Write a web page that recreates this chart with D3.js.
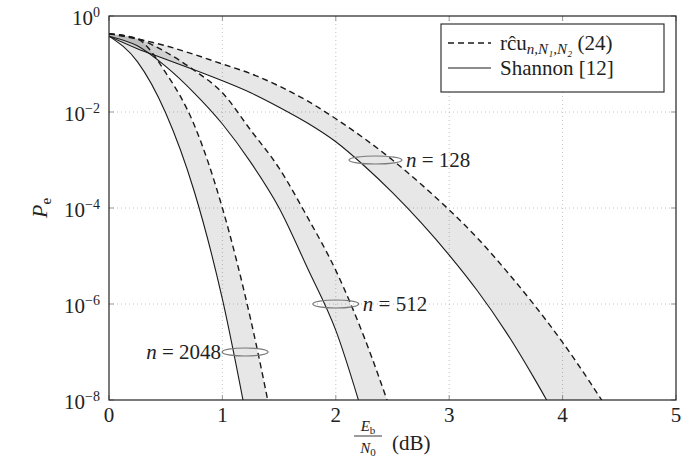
<!DOCTYPE html>
<html>
<head>
<meta charset="utf-8">
<script src="https://cdn.jsdelivr.net/npm/d3@7"></script>
<style>
  body { margin: 0; background: #fff; }
</style>
</head>
<body>
<div id="chart"></div>
<script>
// tick values
const xTicks = [0, 1, 2, 3, 4, 5];
const yTickExps = [0, -2, -4, -6, -8];

// Eb/N0 (dB) grids, one per curve
const ebn0Solid128 = [0, 0.25, 0.5, 0.75, 1, 1.25, 1.5, 1.75, 2, 2.25, 2.5, 2.75, 3, 3.25, 3.5, 3.75, 4];
const ebn0Dashed128 = [0, 0.25, 0.5, 0.75, 1, 1.25, 1.5, 1.75, 2, 2.25, 2.5, 2.75, 3, 3.25, 3.5, 3.75, 4, 4.25, 4.5];
const ebn0Solid512 = [0, 0.25, 0.5, 0.75, 1, 1.25, 1.5, 1.75, 2, 2.25];
const ebn0Dashed512 = [0, 0.25, 0.5, 0.75, 1, 1.25, 1.5, 1.75, 2, 2.25, 2.5];
const ebn0Solid2048 = [0, 0.25, 0.5, 0.75, 1, 1.25];
const ebn0Dashed2048 = [0, 0.25, 0.5, 0.75, 1, 1.25, 1.5];

// log10(Pe)
const logPeSolid128 = [-0.42, -0.68, -0.9, -1.12, -1.35, -1.6, -1.9, -2.23, -2.62, -3.12, -3.68, -4.3, -4.98, -5.73, -6.58, -7.55, -8.6];
const logPeDashed128 = [-0.37, -0.48, -0.62, -0.8, -1.0, -1.2, -1.46, -1.77, -2.14, -2.55, -3.0, -3.5, -4.04, -4.63, -5.3, -6.02, -6.8, -7.66, -8.58];
const logPeSolid512 = [-0.42, -0.62, -1.05, -1.6, -2.25, -3.05, -4.0, -5.25, -6.55, -8.4];
const logPeDashed512 = [-0.37, -0.47, -0.75, -1.13, -1.6, -2.38, -3.17, -4.19, -5.3, -6.69, -8.33];
const logPeSolid2048 = [-0.42, -0.95, -2.02, -3.64, -5.9, -8.85];
const logPeDashed2048 = [-0.37, -0.48, -1.18, -2.26, -4.0, -6.33, -9.2];

// block lengths and where the ellipse marks sit
const blockLengths = [128, 512, 2048];
const markX = [2.35, 2.0, 1.2];
const markExp = [-3, -6, -7];

const FONT = '"Liberation Serif", "Tinos", "DejaVu Serif", "Times New Roman", serif';


function zipCurve(xs, exps) {
  return xs.map((x, i) => ({ x: x, pe: Math.pow(10, exps[i]) }));
}

const curves = [
  { n: 128, dashed: zipCurve(ebn0Dashed128, logPeDashed128), solid: zipCurve(ebn0Solid128, logPeSolid128) },
  { n: 512, dashed: zipCurve(ebn0Dashed512, logPeDashed512), solid: zipCurve(ebn0Solid512, logPeSolid512) },
  { n: 2048, dashed: zipCurve(ebn0Dashed2048, logPeDashed2048), solid: zipCurve(ebn0Solid2048, logPeSolid2048) }
];

const width = 699;
const height = 462;
const margin = { left: 109, top: 16, right: 23, bottom: 62 };

const svg = d3.select('#chart')
  .append('svg')
  .attr('width', width)
  .attr('height', height)
  .attr('font-family', FONT)
  .style('font-family', FONT);

const x = d3.scaleLinear()
  .domain([0, 5])
  .range([margin.left, width - margin.right]);

const y = d3.scaleLog()
  .domain([1e-8, 1])
  .range([height - margin.bottom, margin.top]);

const x0 = x.range()[0], x1 = x.range()[1];
const yTop = y.range()[1], yBot = y.range()[0];

svg.append('clipPath')
  .attr('id', 'plot-clip')
  .append('rect')
  .attr('x', x0)
  .attr('y', yTop)
  .attr('width', x1 - x0)
  .attr('height', yBot - yTop);

// grid
const grid = svg.append('g').attr('class', 'grid');
grid.selectAll('line.gx')
  .data(xTicks.slice(1, -1))
  .enter()
  .append('line')
  .attr('x1', d => x(d)).attr('x2', d => x(d))
  .attr('y1', yTop).attr('y2', yBot)
  .style('stroke', '#bdbdbd')
  .style('stroke-width', 0.9)
  .style('stroke-dasharray', '1,3');
grid.selectAll('line.gy')
  .data(yTickExps.slice(1, -1))
  .enter()
  .append('line')
  .attr('x1', x0).attr('x2', x1)
  .attr('y1', d => y(Math.pow(10, d))).attr('y2', d => y(Math.pow(10, d)))
  .style('stroke', '#bdbdbd')
  .style('stroke-width', 0.9)
  .style('stroke-dasharray', '1,3');

// small inner ticks
const ticks = svg.append('g').attr('class', 'ticks');
xTicks.forEach(t => {
  [[yBot, yBot - 5], [yTop, yTop + 5]].forEach(p => {
    ticks.append('line')
      .attr('x1', x(t)).attr('x2', x(t))
      .attr('y1', p[0]).attr('y2', p[1])
      .style('stroke', '#999').style('stroke-width', 1);
  });
});
yTickExps.forEach(e => {
  const yy = y(Math.pow(10, e));
  [[x0, x0 + 5], [x1, x1 - 5]].forEach(p => {
    ticks.append('line')
      .attr('x1', p[0]).attr('x2', p[1])
      .attr('y1', yy).attr('y2', yy)
      .style('stroke', '#999').style('stroke-width', 1);
  });
});

const plot = svg.append('g').attr('clip-path', 'url(#plot-clip)');

const line = d3.line()
  .curve(d3.curveMonotoneX)
  .x(d => x(d.x))
  .y(d => y(d.pe));

// shaded bands between bound and Shannon curve
plot.selectAll('path.band')
  .data(curves)
  .enter()
  .append('path')
  .attr('class', 'band')
  .attr('d', d => line(d.dashed) + 'L' + line(d.solid.slice().reverse()).slice(1) + 'Z')
  .style('fill', '#000')
  .style('fill-opacity', 0.095)
  .style('stroke', 'none');

plot.selectAll('path.solid')
  .data(curves)
  .enter()
  .append('path')
  .attr('class', 'solid')
  .attr('d', d => line(d.solid))
  .style('fill', 'none')
  .style('stroke', '#1a1a1a')
  .style('stroke-width', 1.1);

plot.selectAll('path.dashed')
  .data(curves)
  .enter()
  .append('path')
  .attr('class', 'dashed')
  .attr('d', d => line(d.dashed))
  .style('fill', 'none')
  .style('stroke', '#1a1a1a')
  .style('stroke-width', 1.4)
  .style('stroke-dasharray', '6,4');

// frame
svg.append('rect')
  .attr('x', x0).attr('y', yTop)
  .attr('width', x1 - x0).attr('height', yBot - yTop)
  .style('fill', 'none')
  .style('stroke', '#222')
  .style('stroke-width', 1.2);

// ellipse marks and n labels
const rx = [26.5, 23, 23];
blockLengths.forEach((n, i) => {
  const cx = x(markX[i]);
  const cy = y(Math.pow(10, markExp[i]));
  svg.append('ellipse')
    .attr('cx', cx).attr('cy', cy)
    .attr('rx', rx[i]).attr('ry', 4)
    .style('fill', 'none')
    .style('stroke', '#7a7a7a')
    .style('stroke-width', 1.2);
  const left = i < 2;
  const t = svg.append('text')
    .attr('x', left ? cx + rx[i] + 4 : cx - rx[i] - 1)
    .attr('y', cy + 7)
    .attr('text-anchor', left ? 'start' : 'end')
    .style('fill', '#222')
    .style('font-size', '21px');
  t.append('tspan').style('font-style', 'italic').text('n');
  t.append('tspan').text(' = ' + n);
});

// tick labels
svg.selectAll('text.xtick')
  .data(xTicks)
  .enter()
  .append('text')
  .attr('class', 'xtick')
  .attr('x', d => x(d))
  .attr('y', yBot + 22)
  .attr('text-anchor', 'middle')
  .style('fill', '#222')
  .style('font-size', '21px')
  .text(d => d);

yTickExps.forEach(e => {
  const yy = y(Math.pow(10, e));
  const t = svg.append('text')
    .attr('x', 100)
    .attr('y', yy + 9)
    .attr('text-anchor', 'end')
    .style('fill', '#222')
    .style('font-size', '21px');
  t.append('tspan').text('10');
  t.append('tspan')
    .attr('dy', -8)
    .style('font-size', '14px')
    .text(e === 0 ? '0' : '\u2212' + Math.abs(e));
});

// axis labels
const yLab = svg.append('text')
  .attr('transform', 'translate(47,' + ((yTop + yBot) / 2) + ') rotate(-90)')
  .attr('text-anchor', 'middle')
  .style('fill', '#222')
  .style('font-size', '22px');
yLab.append('tspan').style('font-style', 'italic').text('P');
yLab.append('tspan').attr('dy', 4).style('font-size', '15px').text('e');

const xl = svg.append('g').attr('class', 'xlabel').style('fill', '#222');
const nx = 368;
const num = xl.append('text').attr('x', nx).attr('y', 431).attr('text-anchor', 'middle').style('font-size', '15px');
num.append('tspan').style('font-style', 'italic').text('E');
num.append('tspan').attr('dy', 3).style('font-size', '11px').text('b');
xl.append('line')
  .attr('x1', nx - 14).attr('x2', nx + 14)
  .attr('y1', 436).attr('y2', 436)
  .style('stroke', '#222').style('stroke-width', 0.9);
const den = xl.append('text').attr('x', nx).attr('y', 453).attr('text-anchor', 'middle').style('font-size', '15px');
den.append('tspan').style('font-style', 'italic').text('N');
den.append('tspan').attr('dy', 3).style('font-size', '11px').text('0');
xl.append('text')
  .attr('x', 392).attr('y', 450)
  .style('font-size', '21px')
  .text('(dB)');

// legend
const lg = svg.append('g').attr('class', 'legend').style('fill', '#222');
lg.append('rect')
  .attr('x', 441).attr('y', 24)
  .attr('width', 223).attr('height', 68)
  .style('fill', '#fff')
  .style('stroke', '#222')
  .style('stroke-width', 1.1);
lg.append('line')
  .attr('x1', 448).attr('x2', 491).attr('y1', 43).attr('y2', 43)
  .style('stroke', '#1a1a1a').style('stroke-width', 1.4).style('stroke-dasharray', '6,4');
lg.append('line')
  .attr('x1', 448).attr('x2', 491).attr('y1', 68).attr('y2', 68)
  .style('stroke', '#1a1a1a').style('stroke-width', 1.1);

const l1 = lg.append('text').attr('x', 500).attr('y', 50).style('font-size', '21px');
l1.append('tspan').text('r\u0109u');
l1.append('tspan').attr('dy', 4).style('font-size', '15px').style('font-style', 'italic').text('n,N\u2081,N\u2082');
l1.append('tspan').attr('dy', -4).text(' (24)');

lg.append('text').attr('x', 500).attr('y', 75).style('font-size', '21px').text('Shannon [12]');
</script>
</body>
</html>
